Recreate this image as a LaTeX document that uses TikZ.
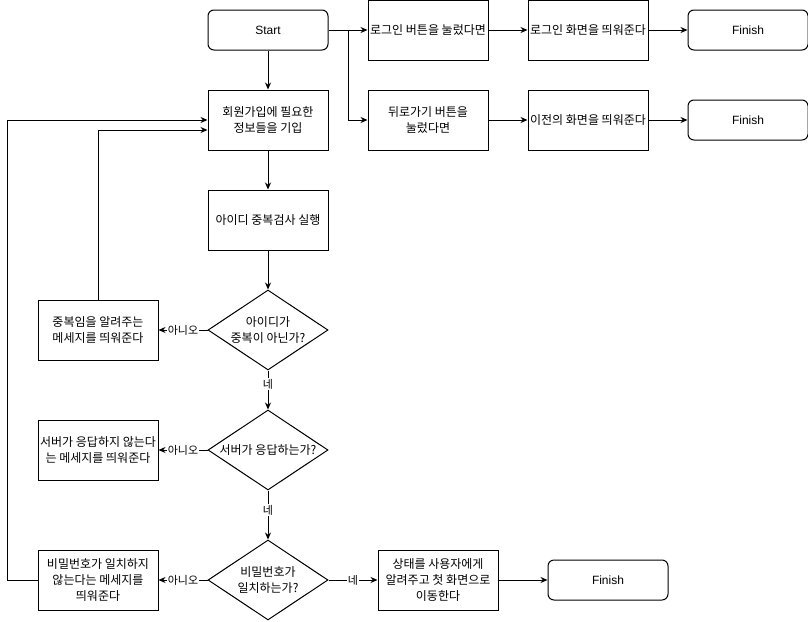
\documentclass[tikz,border=0pt]{standalone}
\usepackage{fontspec}
\setmainfont{Liberation Sans}
\newfontfamily\kr{Noto Sans CJK KR}
\usetikzlibrary{shapes.geometric,arrows.meta}

\tikzset{
	box/.style={draw, line width=1pt, minimum width=120pt, minimum height=60pt, inner sep=1pt},
	term/.style={box, rounded corners=6pt, minimum height=40pt},
	decision/.style={draw, line width=1pt, diamond, minimum width=120pt, minimum height=80pt, inner sep=0pt},
	arr/.style={draw, line width=1pt, -{Stealth[length=7pt,width=6pt]}},
	answer/.style={fill=white, inner sep=1pt, font=\kr\fontsize{11}{13}\selectfont}
}

\begin{document}
\begin{tikzpicture}[x=1pt, y=-1pt, every node/.style={font=\kr\fontsize{12}{16}\selectfont, align=center}]
	\useasboundingbox (0,0) rectangle (808,621);

	% Top row
	\node[term, font=\fontsize{12}{16}\selectfont] (start) at (268,30) {Start};
	\node[box] (loginbtn) at (428,30) {로그인 버튼을 눌렀다면};
	\node[box] (loginscr) at (588,30) {로그인 화면을 띄워준다};
	\node[term, font=\fontsize{12}{16}\selectfont] (fin1) at (748,30) {Finish};

	% Second row
	\node[box] (signup) at (268,120) {회원가입에 필요한\\정보들을 기입};
	\node[box] (backbtn) at (428,120) {뒤로가기 버튼을\\눌렀다면};
	\node[box] (prevscr) at (588,120) {이전의 화면을 띄워준다};
	\node[term, font=\fontsize{12}{16}\selectfont] (fin2) at (748,120) {Finish};

	% Checks
	\node[box] (idcheck) at (268,220) {아이디 중복검사 실행};
	\node[decision, label={center:{아이디가\\중복이 아닌가?}}] (dup) at (268,330) {};
	\node[box] (dupmsg) at (98,330) {중복임을 알려주는\\메세지를 띄워준다};
	\node[decision, label={center:{서버가 응답하는가?}}] (server) at (268,450) {};
	\node[box] (servermsg) at (98,450) {서버가 응답하지 않는다\\는 메세지를 띄워준다};
	\node[decision, label={center:{비밀번호가\\일치하는가?}}] (pw) at (268,580) {};
	\node[box] (pwmsg) at (98,580) {비밀번호가 일치하지\\않는다는 메세지를\\띄워준다};
	\node[box] (state) at (438,580) {상태를 사용자에게\\알려주고 첫 화면으로\\이동한다};
	\node[term, font=\fontsize{12}{16}\selectfont] (fin3) at (608,580) {Finish};

	% Connectors
	\coordinate (split) at (348,30);
	\draw[arr] (start) -- (loginbtn);
	\draw[arr] (split) |- (backbtn);
	\draw[arr] (loginbtn) -- (loginscr);
	\draw[arr] (loginscr) -- (fin1);
	\draw[arr] (backbtn) -- (prevscr);
	\draw[arr] (prevscr) -- (fin2);
	\draw[arr] (start) -- (signup);
	\draw[arr] (signup) -- (idcheck);
	\draw[arr] (idcheck) -- (dup);
	\draw[arr] (dup) -- node[answer, pos=0.35] {네} (server);
	\draw[arr] (server) -- node[answer, pos=0.4] {네} (pw);
	\draw[arr] (dup) -- node[answer] {아니오} (dupmsg);
	\draw[arr] (server) -- node[answer] {아니오} (servermsg);
	\draw[arr] (pw) -- node[answer] {아니오} (pwmsg);
	\draw[arr] (pw) -- node[answer] {네} (state);
	\draw[arr] (state) -- (fin3);

	% Loops back
	\draw[arr] (dupmsg.north) |- ([yshift=-10pt]signup.west);
	\draw[arr] (pwmsg.west) -- ++(-30,0) |- (signup.west);
\end{tikzpicture}
\end{document}
